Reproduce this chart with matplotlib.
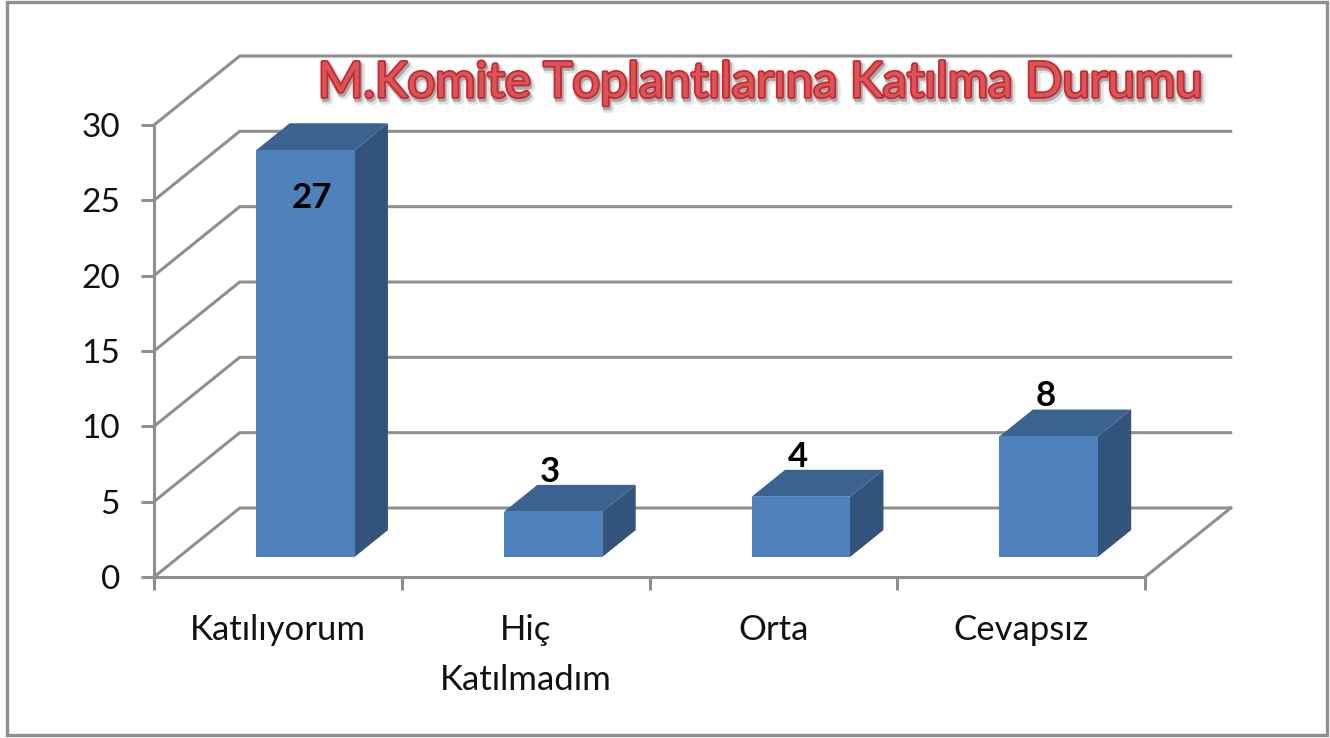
import matplotlib
matplotlib.use("Agg")
import matplotlib.pyplot as plt
import matplotlib.patheffects as pe
from matplotlib.patches import Polygon, Rectangle

categories = ["Katılıyorum", "Hiç\nKatılmadım", "Orta", "Cevapsız"]
values = [27, 3, 4, 8]
y_ticks = [0, 5, 10, 15, 20, 25, 30]
title = "M.Komite Toplantılarına Katılma Durumu"

W, H = 1330, 738
GRID = "#8f8f8f"
FRONT, TOP, SIDE = "#4f81bd", "#3b6291", "#32537b"
DX, DY = 0.346, 4.58      # wall depth in data units
F0, F1 = 0.29, 0.68       # bar depth range as a fraction of wall depth
GAP, BW = 0.312, 0.397

plt.rcParams["font.family"] = ["Lato", "DejaVu Sans"]
fig = plt.figure(figsize=(W / 100, H / 100), dpi=100, facecolor="white")
L, R, T, B = 154, 1145, 125, 577
ax = fig.add_axes([L / W, 1 - B / H, (R - L) / W, (B - T) / H])
ax.set_xlim(0, len(categories))
ax.set_ylim(0, 30)
ax.patch.set_alpha(0)
for s in ("top", "right"):
    ax.spines[s].set_visible(False)
for s in ("left", "bottom"):
    ax.spines[s].set_color(GRID)
    ax.spines[s].set_linewidth(2.2)

ax.set_yticks(y_ticks)
ax.set_xticks(range(len(categories) + 1))
ax.set_xticklabels([])
ax.set_xticks([i + 0.5 for i in range(len(categories))], categories, minor=True)
ax.tick_params(axis="y", length=9.5, width=2.2, color=GRID, labelsize=24, pad=15, labelcolor="#111111")
ax.tick_params(axis="x", which="major", length=9.5, width=2.2, color=GRID)
ax.tick_params(axis="x", which="minor", length=0, labelsize=25, pad=26.5, labelcolor="#111111")
for lab in ax.get_xticklabels(minor=True):
    lab.set_linespacing(1.7)

# walls and floor
for v in y_ticks:
    ax.plot([0, DX, len(categories) + DX], [v, v + DY, v + DY], color=GRID, lw=2.2,
            clip_on=False, zorder=1, solid_joinstyle="miter")
ax.plot([len(categories), len(categories) + DX], [0, DY], color=GRID, lw=2.2, clip_on=False, zorder=1)

# 3-D bars
for i, v in enumerate(values):
    x0 = i + GAP + F0 * DX
    x1 = x0 + BW
    y0 = F0 * DY
    y1 = y0 + v
    ddx = (F1 - F0) * DX
    ddy = (F1 - F0) * DY
    ax.add_patch(Polygon([(x1, y0), (x1 + ddx, y0 + ddy), (x1 + ddx, y1 + ddy), (x1, y1)],
                         fc=SIDE, ec="none", clip_on=False, zorder=3))
    ax.add_patch(Polygon([(x0, y1), (x1, y1), (x1 + ddx, y1 + ddy), (x0 + ddx, y1 + ddy)],
                         fc=TOP, ec="none", clip_on=False, zorder=3))
    ax.add_patch(Rectangle((x0, y0), BW, v, fc=FRONT, ec="none", clip_on=False, zorder=4))
    off = (6, -48) if i == 0 else (-3, 40)
    ax.annotate(str(v), ((x0 + x1) / 2, y1), xytext=off, textcoords="offset pixels",
                ha="center", va="center", fontsize=25, fontweight="bold", color="black",
                annotation_clip=False, zorder=6)

# title with soft shadow and bevel-like edge
ax.set_title(title, x=(760 - L) / (R - L), y=1 + 28 / (B - T), pad=0, va="baseline",
             fontsize=35.3, fontweight="normal", color="#da5558", zorder=7,
             path_effects=[
                 pe.Stroke(linewidth=5, foreground="#e2e2e2", offset=(2, -3)),
                 pe.Stroke(linewidth=3, foreground="#a8a8a8", offset=(1, -2)),
                 pe.Stroke(linewidth=2.6, foreground="#c9282f"),
                 pe.Normal(),
             ])

# outer frame
fig.add_artist(Rectangle((6.5 / W, 1 - 735 / H), (1326.5 - 6.5) / W, (735 - 2) / H,
                         transform=fig.transFigure, fill=False, ec=GRID, lw=2.4))

fig.savefig("out.png", dpi=100, facecolor="white")
